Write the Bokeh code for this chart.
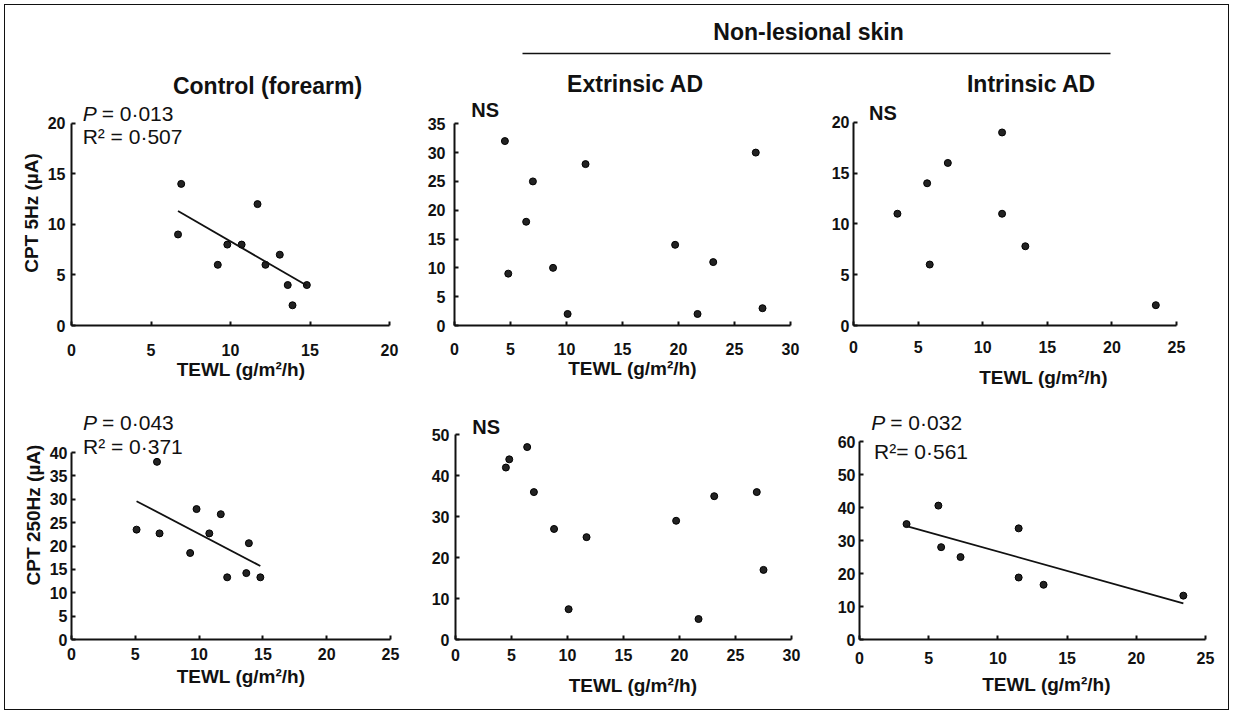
import numpy as np
from bokeh.plotting import figure
from bokeh.layouts import column, row
from bokeh.models import Range1d, FixedTicker
from bokeh.core.properties import value
from bokeh.embed import file_html
from bokeh.resources import INLINE

# ---------------- data ----------------
ctrl5_x = [6.9, 6.7, 9.8, 10.7, 9.2, 11.7, 12.2, 13.1, 13.6, 13.9, 14.8]
ctrl5_y = [14, 9, 8, 8, 6, 12, 6, 7, 4, 2, 4]

ext_x = [4.5, 4.8, 6.4, 7.0, 8.8, 10.1, 11.7, 19.7, 21.7, 23.1, 26.9, 27.5]
ext5_y = [32, 9, 18, 25, 10, 2, 28, 14, 2, 11, 30, 3]
ext250_y = [42, 44, 47, 36, 27, 7.4, 25, 29, 5, 35, 36, 17]

int_x = [3.4, 5.7, 5.9, 7.3, 11.5, 11.5, 13.3, 23.4]
int5_y = [11, 14, 6, 16, 19, 11, 7.8, 2]
int250_y = [35, 40.6, 28, 25, 33.7, 18.8, 16.6, 13.3]

ctrl250_x = [5.1, 6.7, 6.9, 9.8, 9.3, 10.8, 11.7, 12.2, 13.7, 13.9, 14.8]
ctrl250_y = [23.5, 38, 22.7, 27.9, 18.5, 22.7, 26.8, 13.3, 14.2, 20.6, 13.3]

col_titles = ["Control (forearm)", "Extrinsic AD", "Intrinsic AD"]
header_title = "Non-lesional skin"
x_label = "TEWL (g/m²/h)"
y_label_5 = "CPT 5Hz (µA)"
y_label_250 = "CPT 250Hz (µA)"

FONT = "Liberation Sans"
INK = "#111111"


def make_panel(w, h, left, bottom, ax_len_x, ax_len_y, xmax, ymax, ystep,
               ylabel=None, xt_stand=14, xl_stand=2, yt_stand=5, yl_stand=4):
    xr = Range1d(0, xmax * (w - left) / ax_len_x)
    yr = Range1d(0, ymax * (h - bottom) / ax_len_y)
    p = figure(width=w, height=h, x_range=xr, y_range=yr, title=None,
               toolbar_location=None, output_backend="svg",
               min_border_left=left, min_border_bottom=bottom,
               min_border_top=0, min_border_right=0)
    p.outline_line_color = None
    p.grid.visible = False
    p.background_fill_color = None
    p.border_fill_color = None
    xa, ya = p.xaxis[0], p.yaxis[0]
    xa.bounds = (0, xmax)
    ya.bounds = (0, ymax)
    xa.ticker = FixedTicker(ticks=list(range(0, xmax + 1, 5)))
    ya.ticker = FixedTicker(ticks=list(range(0, ymax + 1, ystep)))
    for ax in (xa, ya):
        ax.minor_tick_line_color = None
        ax.major_tick_in = 4
        ax.major_tick_out = 0
        ax.axis_line_width = 2
        ax.axis_line_color = INK
        ax.major_tick_line_width = 2
        ax.major_tick_line_color = INK
        ax.major_label_text_font = FONT
        ax.major_label_text_font_size = "16px"
        ax.major_label_text_font_style = "bold"
        ax.major_label_text_color = INK
        ax.axis_label_text_font = FONT
        ax.axis_label_text_font_size = "19px"
        ax.axis_label_text_font_style = "bold"
        ax.axis_label_text_color = INK
    xa.axis_label = x_label
    xa.major_label_standoff = xt_stand
    xa.axis_label_standoff = xl_stand
    ya.major_label_standoff = yt_stand
    if ylabel:
        ya.axis_label = ylabel
        ya.axis_label_standoff = yl_stand
    return p


def points(p, xs, ys, fit=False):
    p.scatter(xs, ys, marker="circle", size=7, fill_color="#222222",
              line_color="#000000", line_width=1)
    if fit:
        xa = np.asarray(xs, float)
        ya = np.asarray(ys, float)
        k, b = np.polyfit(xa, ya, 1)
        xl = np.array([xa.min(), xa.max()])
        p.line(xl, k * xl + b, line_width=1.8, color=INK)


def stats(p, x, y1, y2, ptxt, rtxt, rx=None):
    p.text(x=[x], y=[y1], text=["P"], text_font=value(FONT), text_font_size="21px",
           text_font_style="italic", text_baseline="middle", text_align="left", text_color=INK)
    p.text(x=[x], y=[y1], text=[ptxt], text_font=value(FONT), text_font_size="21px",
           text_baseline="middle", text_align="left", text_color=INK, x_offset=19)
    p.text(x=[x if rx is None else rx], y=[y2], text=[rtxt], text_font=value(FONT),
           text_font_size="21px", text_baseline="middle", text_align="left", text_color=INK)


def ns(p, x, y):
    p.text(x=[x], y=[y], text=["NS"], text_font=value(FONT), text_font_size="20px",
           text_font_style="bold", text_baseline="middle", text_align="left", text_color=INK)


# ---------------- header ----------------
hdr = figure(width=1233, height=100, x_range=Range1d(0, 1233), y_range=Range1d(100, 0),
             title=None, toolbar_location=None, output_backend="svg",
             x_axis_location=None, y_axis_location=None, min_border=0)
hdr.outline_line_color = None
hdr.grid.visible = False
hdr.background_fill_color = None
hdr.border_fill_color = None
hdr.text(x=[808], y=[31], text=[header_title], text_font=value(FONT), text_font_size="23px",
         text_font_style="bold", text_align="center", text_baseline="middle", text_color=INK)
hdr.segment(x0=[522], y0=[53], x1=[1110], y1=[53], line_width=1.5, color=INK)
hdr.text(x=[267, 635, 1031], y=[85, 83, 83], text=col_titles, text_font=value(FONT),
         text_font_size="23px", text_font_style="bold", text_align="center",
         text_baseline="middle", text_color=INK)

# ---------------- top row (5 Hz) ----------------
p1 = make_panel(410, 290, 71, 62, 318, 205, 20, 20, 5, ylabel=y_label_5,
                xt_stand=18, xl_stand=0, yt_stand=6, yl_stand=3)
points(p1, ctrl5_x, ctrl5_y, fit=True)
stats(p1, 0.7, 21.0, 18.7, "= 0·013", "R² = 0·507")

p2 = make_panel(400, 290, 44, 58, 336, 208, 30, 35, 5,
                xt_stand=17, xl_stand=0, yt_stand=9)
points(p2, ext_x, ext5_y)
ns(p2, 1.5, 37.4)

p3 = make_panel(423, 290, 43, 63, 323, 205, 25, 20, 5,
                xt_stand=15, xl_stand=11, yt_stand=4)
points(p3, int_x, int5_y)
ns(p3, 1.2, 20.9)

# ---------------- bottom row (250 Hz) ----------------
p4 = make_panel(410, 324, 71, 75, 319, 187, 25, 40, 5, ylabel=y_label_250,
                xt_stand=8, xl_stand=3, yt_stand=4, yl_stand=3)
points(p4, ctrl250_x, ctrl250_y, fit=True)
stats(p4, 0.9, 46.4, 41.2, "= 0·043", "R² = 0·371")

p5 = make_panel(400, 324, 45, 71, 336, 208, 30, 50, 10,
                xt_stand=9, xl_stand=11, yt_stand=6)
points(p5, ext_x, ext250_y)
ns(p5, 1.5, 51.9)

p6 = make_panel(423, 324, 49, 66, 346, 205, 25, 60, 10,
                xt_stand=12, xl_stand=7, yt_stand=4)
points(p6, int_x, int250_y, fit=True)
stats(p6, 0.85, 65.8, 57.0, "= 0·032", "R²= 0·561", rx=1.05)

layout = column(hdr, row(p1, p2, p3), row(p4, p5, p6),
                styles={"outline": "1.5px solid #111", "outline-offset": "-5px"})

open("out.html", "w").write(file_html(layout, INLINE))
